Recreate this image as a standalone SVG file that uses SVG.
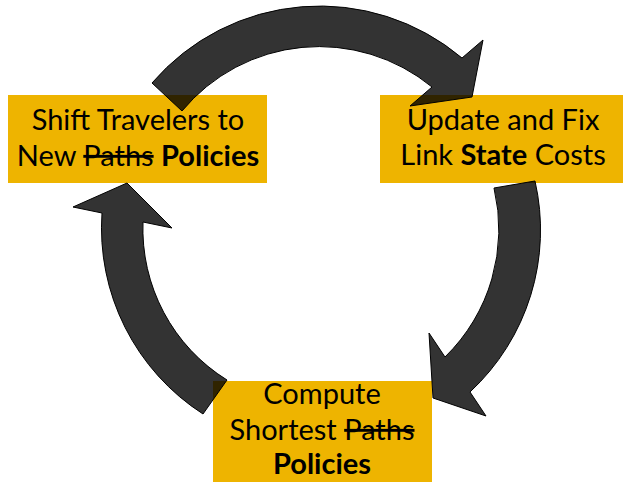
<svg xmlns="http://www.w3.org/2000/svg" width="623" height="482" viewBox="0 0 623 482">
  <style>
    .box { fill: #EEB400; }
    .lbl { font-family: Lato, "Open Sans", "Liberation Sans", sans-serif; font-size: 29px; fill: #000; text-anchor: middle; }
    .b { font-weight: bold; }
    .s { text-decoration: line-through; }
    .arrow { fill: #000; fill-opacity: 0.8; stroke: #000; stroke-width: 1; stroke-linejoin: miter; }
  </style>
  <rect width="623" height="482" fill="#fff"/>
  <g id="node-shift">
    <rect class="box" x="8" y="95" width="259" height="88"/>
    <text class="lbl" x="138" y="130">Shift Travelers to</text>
    <text class="lbl" x="138" y="166">New <tspan class="s">Paths</tspan> <tspan class="b">Policies</tspan></text>
  </g>
  <g id="node-update">
    <rect class="box" x="380" y="95" width="246" height="88"/>
    <text class="lbl" x="503" y="130">Update and Fix</text>
    <text class="lbl" x="503" y="165">Link <tspan class="b">State</tspan> Costs</text>
  </g>
  <g id="node-compute">
    <rect class="box" x="213" y="381" width="219" height="101"/>
    <text class="lbl" x="322" y="404">Compute</text>
    <text class="lbl" x="322" y="440">Shortest <tspan class="s">Paths</tspan></text>
    <text class="lbl b" x="322" y="474">Policies</text>
  </g>
  <g id="connectors">
    <path class="arrow" d="M 152,83 A 221 221 0 0 1 462,58 L 483,40 L 472,97 L 410,106 L 432,87 A 178 178 0 0 0 182,111 Z"/>
    <path class="arrow" d="M 535,181 A 221 221 0 0 1 470,392 L 486,416 L 433,398 L 429,333 L 445,357 A 178 178 0 0 0 494,188 Z"/>
    <path class="arrow" d="M 203,414 A 221 221 0 0 1 102,213 L 73,207 L 127,183 L 172,228 L 143,222 A 178 178 0 0 0 227,380 Z"/>
  </g>
</svg>
